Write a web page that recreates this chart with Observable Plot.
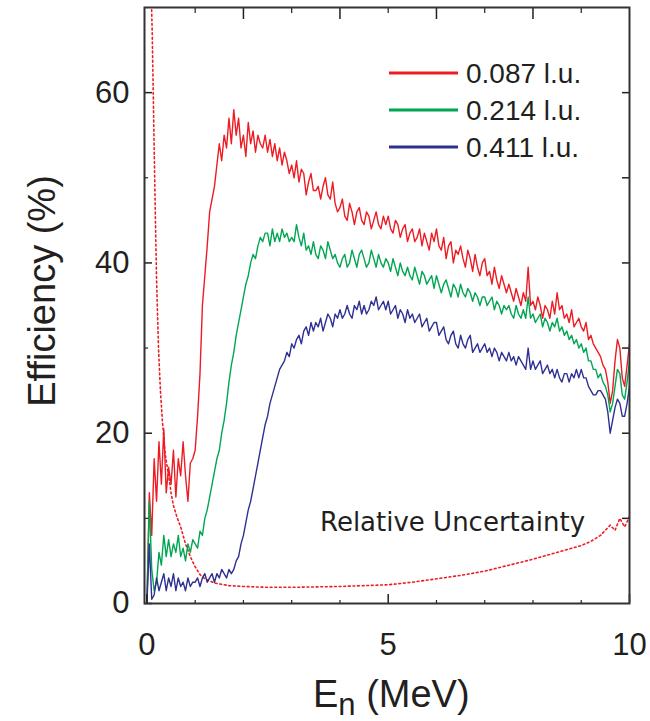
<!DOCTYPE html>
<html><head><meta charset="utf-8">
<script src="https://cdn.jsdelivr.net/npm/d3@7"></script>
<script src="https://cdn.jsdelivr.net/npm/@observablehq/plot@0.6"></script>
<style>body{margin:0;background:#fff}</style>
</head><body><div id="chart"></div>
<script>
// Energy grid (MeV)
const energy = [
0,0.05,0.1,0.15,0.2,0.25,0.3,0.35,0.4,0.45,
0.5,0.55,0.6,0.65,0.7,0.75,0.8,0.85,0.9,0.95,
1,1.05,1.1,1.15,1.2,1.25,1.3,1.35,1.4,1.45,
1.5,1.55,1.6,1.65,1.7,1.75,1.8,1.85,1.9,1.95,
2,2.05,2.1,2.15,2.2,2.25,2.3,2.35,2.4,2.45,
2.5,2.55,2.6,2.65,2.7,2.75,2.8,2.85,2.9,2.95,
3,3.05,3.1,3.15,3.2,3.25,3.3,3.35,3.4,3.45,
3.5,3.55,3.6,3.65,3.7,3.75,3.8,3.85,3.9,3.95,
4,4.05,4.1,4.15,4.2,4.25,4.3,4.35,4.4,4.45,
4.5,4.55,4.6,4.65,4.7,4.75,4.8,4.85,4.9,4.95,
5,5.05,5.1,5.15,5.2,5.25,5.3,5.35,5.4,5.45,
5.5,5.55,5.6,5.65,5.7,5.75,5.8,5.85,5.9,5.95,
6,6.05,6.1,6.15,6.2,6.25,6.3,6.35,6.4,6.45,
6.5,6.55,6.6,6.65,6.7,6.75,6.8,6.85,6.9,6.95,
7,7.05,7.1,7.15,7.2,7.25,7.3,7.35,7.4,7.45,
7.5,7.55,7.6,7.65,7.7,7.75,7.8,7.85,7.9,7.95,
8,8.05,8.1,8.15,8.2,8.25,8.3,8.35,8.4,8.45,
8.5,8.55,8.6,8.65,8.7,8.75,8.8,8.85,8.9,8.95,
9,9.05,9.1,9.15,9.2,9.25,9.3,9.35,9.4,9.45,
9.5,9.55,9.6,9.65,9.7,9.75,9.8,9.85,9.9,9.95,
10];

// Efficiency (%) for threshold 0.087 l.u.
const eff087 = [
0,13,8,17,12,19,14,20.5,13,16,
14,18,12.5,17,15,19,15,12,16.5,17,
18,22,27,35,38.5,42,46,47.5,49,51.5,
54,52,55,53.5,57,54,58,55,57,53.5,
55,52.5,56.5,54,55.5,53,55,54,53.5,55,
53,54.5,52.5,54,52,53.5,51.5,53,52,50.5,
51.5,50,52,49.5,51,50.5,48,49.5,50.5,48.5,
48.5,49,47.5,49,50,48,47.5,49.5,47,46,
46.5,47.5,45.5,45,47,46,44.5,46,46.5,45,
44.5,46,45.5,44,45,46,44.5,44,45.5,44.5,
45.5,44,43.5,45,44.5,43,44,44.5,42.5,43.5,
44,42.5,43,44,42,43.5,42.5,41.5,43.5,42.5,
44,42,41.5,43,40.5,42,42.5,40,41.5,41,
42,40.5,39.5,41.5,40.5,39,41,39.5,38.5,40,
40.5,38.5,39,37.5,39.5,38,37,38.5,37.5,36.5,
37.5,36.5,35.5,37,36,35,36.5,35.5,39.5,35,
35.5,34.5,36,35,33.5,35,34.5,33.5,35.5,34,
36.5,34.5,35,33.5,34,33,34.5,32.5,33,33.5,
32.5,32,33,31,31.5,30.5,30,29.5,29,28,
27.5,26,23.5,25,28.5,31,30,26.5,25.5,28,
30.5];

// Efficiency (%) for threshold 0.214 l.u.
const eff214 = [
0,12,4,1.5,2.5,6,4.5,8,5.5,7.5,
5.5,7,6,8,5.5,6.5,5,7,6,7.5,
7,6.5,8.5,8,10,11,12.5,14,15.5,17,
18,20,21.5,23.5,26,28,29.5,31.5,33,34.5,
36,37.5,38.5,40,41,40.5,42,43,42.5,43.5,
43.5,42,44,42.5,43.5,42.5,44,43,43.5,42.5,
43,42.5,44.5,43,42,43.5,41.5,42,41,42.5,
41,40.5,42,41.5,40.5,42.5,41.5,40.5,41,40,
39.5,40.5,41,39.5,40,41.5,40.5,39.5,41,41.5,
40.5,39.5,40,41.5,40.5,39.5,41,40,39.5,40.5,
40,39,40.5,39.5,38.5,40,39,38.5,39.5,38.5,
38,39.5,38.5,37.5,39,38.5,37.5,38,38.5,37,
38.5,37.5,36.5,37.5,38,37,36,37.5,37,36,
37.5,36.5,36,37,36.5,35.5,36.5,36,35,36,
36,35,35.5,36,34.5,35.5,35,34,35,34.5,
35,34,33.5,35,34,33.5,34.5,33.5,36,33.5,
34,33,33.5,34,32.5,33.5,33,32,33,32.5,
33.5,32,32.5,31.5,32,31,31.5,30.5,31,30,
30.5,29.5,30,28.5,28.5,27.5,27.5,26.5,27,26,
25.5,24.5,22.5,23.5,25.5,27.5,27,24.5,24,26,
28.5];

// Efficiency (%) for threshold 0.411 l.u.
const eff411 = [
0,7,0.5,1,3,1.5,2.5,3.5,1.5,3,
2,3.5,1.5,3,2,2.5,1.5,3,2,2.5,
2.5,3,2,3,3.5,2.5,3,3.5,2.5,3.5,
3,4,3.5,3,4,3.5,4,5,5.5,7,
8,9.5,11,12,13.5,15,16.5,18,19.5,21,
22,23.5,24.5,25.5,26.5,27.5,28,28.5,29.5,29,
30.5,30,31,31.5,30.5,32,32.5,31.5,33,32,
33,32.5,33.5,32,33,34,33.5,32.5,34,33.5,
34.5,33.5,34,35,34,33.5,35,34.5,35.5,34,
35,34,34.5,35.5,35,36,34.5,35,35.5,34.5,
35.5,34,34.5,35,33.5,34.5,34,33,34.5,33.5,
34,33,33.5,34,32.5,33,33.5,32,32.5,33,
33,31.5,32,32.5,31,30.5,31.5,32,30.5,30,
31.5,30.5,30,31,31.5,29.5,30,30.5,29.5,30,
30.5,29.5,30,29,30,29.5,28.5,29.5,29,28.5,
29.5,28.5,29,28,29,28.5,28,27.5,30,27.5,
28.5,27.5,28,28.5,27,27.5,28,27,27.5,26.5,
27.5,26.5,26,27,27,26,27,26.5,27.5,26.5,
27.5,26.5,26.5,25.5,25,24.5,24.5,25,25,24.5,
24,22.5,20,21.5,23,24,23.5,22,22,23.5,
25.5];

// Relative uncertainty (dotted), energy and value
const uncEnergy = [0.06,0.08,0.11,0.14,0.17,0.2,0.24,0.28,0.32,0.38,0.45,0.5,0.55,0.62,0.7,0.8,0.9,1.0,1.1,1.2,1.4,1.7,2.0,2.5,3.0,3.5,4.0,4.5,5.0,5.5,6.0,6.5,7.0,7.5,8.0,8.5,9.0,9.2,9.4,9.6,9.7,9.8,9.9,10.0];
const uncValue  = [80,74,67,57,47,38,30,25,21.5,17.5,15,13,11.5,10.2,9,7,5.5,4.3,3.4,2.9,2.4,2.1,2.0,1.9,1.9,1.95,2.0,2.1,2.2,2.5,2.9,3.3,3.8,4.5,5.2,6.0,6.8,7.3,8.0,9.2,8.6,10.0,9.0,10.2];

const seriesNames = ["0.087 l.u.", "0.214 l.u.", "0.411 l.u."];
const seriesColors = ["#ed1c24", "#00a651", "#2e3192"];
const seriesValues = [eff087, eff214, eff411];

const xTickLabels = [0, 5, 10];
const yTickLabels = [0, 20, 40, 60];
const xBottomMajor = [0, 5, 10], xBottomMinor = [1, 2, 3, 4, 6, 7, 8, 9];
const xTopMajor = [2, 4, 6, 8], xTopMinor = [1, 3, 5, 7, 9];
const yLeftMajor = [0, 20, 40, 60], yLeftMinor = [10, 30, 50];
const yRight = [10, 20, 30, 40, 50, 60];

const xLabelMain = "E", xLabelSub = "n", xLabelUnit = " (MeV)";
const yLabelText = "Efficiency (%)";
const noteText = "Relative Uncertainty";

const curveRows = [];
seriesValues.forEach((vals, k) => vals.forEach((v, i) => curveRows.push({E: energy[i], v, s: seriesNames[k]})));
const uncRows = uncEnergy.map((e, i) => ({E: e, v: uncValue[i]}));

const W = 650, H = 721, mL = 144, mR = 21, mT = 7, mB = 118;
const pw = W - mL - mR, ph = H - mT - mB;
const ink = "#231f20";

const chart = Plot.plot({
  width: W, height: H,
  marginLeft: mL, marginRight: mR, marginTop: mT, marginBottom: mB,
  style: {fontFamily: "'Liberation Sans', Arial, Helvetica, sans-serif", fontSize: "31px", color: ink, background: "#fff"},
  x: {domain: [-0.05, 10]},
  y: {domain: [0, 70]},
  color: {domain: seriesNames, range: seriesColors},
  marks: [
    Plot.line(uncRows, {x: "E", y: "v", stroke: "#ed1c24", strokeWidth: 1.6, strokeDasharray: "1.8,2.8", clip: true}),
    Plot.line(curveRows, {x: "E", y: "v", z: "s", stroke: "s", strokeWidth: 1.4, clip: true}),
    Plot.tickX(xBottomMajor, {x: d => d, insetTop: ph - 9, stroke: ink, strokeWidth: 1.5}),
    Plot.tickX(xBottomMinor, {x: d => d, insetTop: ph - 3, stroke: ink, strokeWidth: 1.2}),
    Plot.tickX(xTopMajor, {x: d => d, insetBottom: ph - 12, stroke: ink, strokeWidth: 1.5}),
    Plot.tickX(xTopMinor, {x: d => d, insetBottom: ph - 6, stroke: ink, strokeWidth: 1.2}),
    Plot.tickY(yLeftMajor, {y: d => d, insetRight: pw - 8, stroke: ink, strokeWidth: 1.5}),
    Plot.tickY(yLeftMinor, {y: d => d, insetRight: pw - 4, stroke: ink, strokeWidth: 1.2}),
    Plot.tickY(yRight, {y: d => d, insetLeft: pw - 7, stroke: ink, strokeWidth: 1.5}),
    Plot.frame({stroke: "#333", strokeWidth: 2}),
    Plot.axisX({ticks: xTickLabels, tickSize: 0, tickPadding: 29, label: null, fontSize: 31}),
    Plot.axisY({ticks: yTickLabels, tickSize: 0, tickPadding: 15, label: null, fontSize: 31})
  ]
});

document.getElementById("chart").appendChild(chart);
const svg = d3.select(chart);
const ff = "'Liberation Sans', Arial, Helvetica, sans-serif";

// x-axis label with subscript
const xl = svg.append("text").attr("x", 313).attr("y", 707).attr("text-anchor", "start")
  .attr("font-family", ff).attr("font-size", 38).attr("fill", ink);
xl.append("tspan").text(xLabelMain);
xl.append("tspan").attr("dy", 8).attr("font-size", 31).text(xLabelSub);
xl.append("tspan").attr("dy", -8).text(xLabelUnit);

// y-axis label
svg.append("text").attr("transform", "translate(55,291) rotate(-90)")
  .attr("text-anchor", "middle").attr("font-family", ff).attr("font-size", 38)
  .attr("fill", ink).text(yLabelText);

// legend
const legY = [73, 110, 147];
seriesNames.forEach((name, k) => {
  svg.append("line").attr("x1", 389).attr("x2", 458).attr("y1", legY[k]).attr("y2", legY[k])
    .attr("stroke", seriesColors[k]).attr("stroke-width", 3);
  svg.append("text").attr("x", 466).attr("y", legY[k]).attr("dy", "0.36em").attr("text-anchor", "start")
    .attr("font-family", ff).attr("font-size", 28).attr("fill", ink).text(name);
});

// annotation
svg.append("text").attr("x", 320).attr("y", 531).attr("text-anchor", "start")
  .attr("font-family", "'DejaVu Sans', sans-serif").attr("font-size", 26)
  .attr("fill", ink).text(noteText);
</script>
</body></html>
